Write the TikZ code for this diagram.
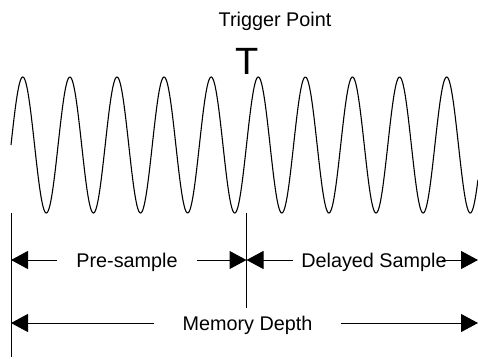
\documentclass[tikz,border=0pt]{standalone}
\usepackage{fontspec}
\setmainfont{Liberation Sans}
\usetikzlibrary{arrows.meta}

\begin{document}
\begin{tikzpicture}[x=1bp, y=-1bp, >={Triangle[length=17bp, width=18bp]},
  lbl/.style={font=\fontsize{19.8bp}{24bp}\selectfont, text height=14.2bp,
              text depth=0pt, inner ysep=0pt},
  dim/.style={->, line width=1bp}]
  \useasboundingbox (0,0) rectangle (478,358);
  % signal
  \draw[line width=1.1bp, domain=11:478, samples=600]
    plot (\x,{145-68*sin(7.6433*(\x-11))});
  % trigger mark
  \node[lbl] (trig) at (275,19.6) {Trigger Point};
  \node[font=\fontsize{38bp}{44bp}\selectfont, text height=27.2bp,
        text depth=0pt, inner sep=0pt] (tmark) at (247,61) {T};
  % boundary lines
  \coordinate (Ltop) at (11,213);
  \coordinate (Lbot) at (11,357);
  \coordinate (Mtop) at (246.5,213);
  \coordinate (Mbot) at (246.5,308);
  \draw[line width=1bp] (Ltop) -- (Lbot);
  \draw[line width=1bp] (Mtop) -- (Mbot);
  % arrow ends
  \coordinate (L1) at (11,260);
  \coordinate (M1) at (246.5,260);
  \coordinate (R1) at (478,260);
  \coordinate (L2) at (11,323);
  \coordinate (R2) at (478,323);
  % labels
  \node[lbl, inner xsep=19bp] (pre) at (127,260) {Pre-sample};
  \node[lbl, inner xsep=8bp] (del) at (374,260) {Delayed Sample};
  \node[lbl, inner xsep=28bp] (mem) at (247.5,323) {Memory Depth};
  % dimension arrows
  \draw[dim] (pre.west) -- (L1);
  \draw[dim] (pre.east) -- (M1);
  \draw[dim] (del.west) -- (M1);
  \draw[dim] ([xshift=-13bp]del.east) -- (R1);
  \draw[dim] (mem.west) -- (L2);
  \draw[dim] (mem.east) -- (R2);
\end{tikzpicture}
\end{document}
